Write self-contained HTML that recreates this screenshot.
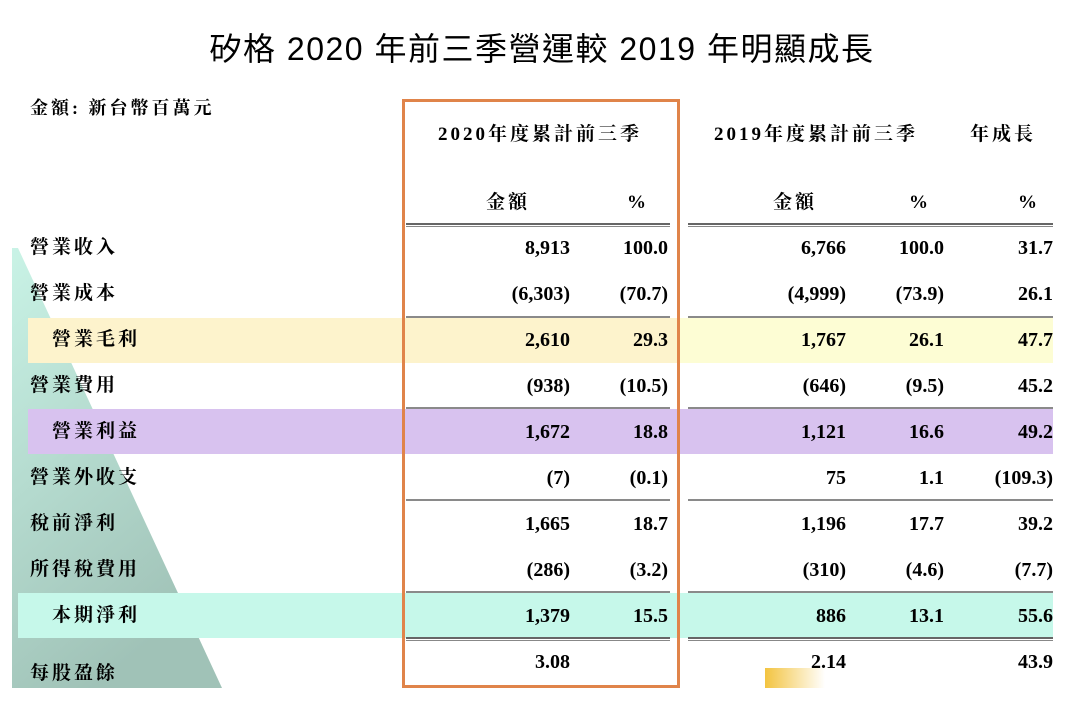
<!DOCTYPE html>
<html><head><meta charset="utf-8"><style>
body{margin:0;width:1084px;height:710px;background:#fff;position:relative;overflow:hidden;font-family:"Liberation Serif","Noto Serif CJK SC",serif;}
.a{position:absolute;white-space:nowrap;}
.t{font-family:"Liberation Sans","Noto Sans CJK TC",sans-serif;font-size:32px;letter-spacing:1.5px;left:0;width:1084px;text-align:center;top:24px;}
.l{font-size:19px;font-weight:bold;left:30px;line-height:24px;letter-spacing:3px;}
.n{font-size:20px;font-weight:bold;line-height:24px;text-align:right;width:140px;}
.h{font-size:19px;font-weight:bold;line-height:24px;letter-spacing:3px;}
.ln{position:absolute;height:2px;background:#8a8a8a;}
.dl{position:absolute;height:4px;border-top:2px solid #666;border-bottom:1px solid #888;box-sizing:border-box;}
</style></head><body>
<svg class="a" style="left:0;top:0" width="1084" height="710">
<defs><linearGradient id="g" x1="0" y1="0" x2="0.4" y2="1"><stop offset="0" stop-color="#c9f3e6"/><stop offset="1" stop-color="#a0c2b7"/></linearGradient>
<linearGradient id="y" x1="0" x2="1"><stop offset="0" stop-color="#f3c440"/><stop offset="1" stop-color="#fff"/></linearGradient></defs>
<polygon points="18,248 222,688 12,688 12,248" fill="url(#g)"/>
<rect x="28" y="318" width="1025" height="45" fill="#fdf3cc"/>
<rect x="680" y="318" width="373" height="45" fill="#fdfdd4"/>
<rect x="28" y="409" width="1025" height="45" fill="#d8c2ef"/>
<rect x="18" y="593" width="1035" height="45" fill="#c6f8ea"/>
<rect x="765" y="668" width="60" height="20" fill="url(#y)"/>
</svg>
<div class="ln" style="left:406px;width:264px;top:316px"></div><div class="ln" style="left:688px;width:365px;top:316px"></div>
<div class="ln" style="left:406px;width:264px;top:407px"></div><div class="ln" style="left:688px;width:365px;top:407px"></div>
<div class="ln" style="left:406px;width:264px;top:499px"></div><div class="ln" style="left:688px;width:365px;top:499px"></div>
<div class="ln" style="left:406px;width:264px;top:591px"></div><div class="ln" style="left:688px;width:365px;top:591px"></div>
<div class="dl" style="left:406px;width:264px;top:223px"></div><div class="dl" style="left:688px;width:365px;top:223px"></div>
<div class="dl" style="left:406px;width:264px;top:637px"></div><div class="dl" style="left:688px;width:365px;top:637px"></div>
<div class="a" style="left:402px;top:99px;width:278px;height:589px;border:3px solid #e0844a;box-sizing:border-box"></div>
<div class="a t">矽格 2020 年前三季營運較 2019 年明顯成長</div>
<div class="a h" style="left:30px;top:96px;font-size:18px">金額: 新台幣百萬元</div>
<div class="a h" style="left:438px;top:123px">2020年度累計前三季</div>
<div class="a h" style="left:714px;top:123px">2019年度累計前三季</div>
<div class="a h" style="left:970px;top:123px">年成長</div>
<div class="a h" style="left:486px;top:191px">金額</div><div class="a h" style="left:627px;top:191px">%</div>
<div class="a h" style="left:773px;top:191px">金額</div><div class="a h" style="left:909px;top:191px">%</div><div class="a h" style="left:1018px;top:191px">%</div>
<div class="a l" style="top:236px">營業收入</div>
<div class="a l" style="top:282px">營業成本</div>
<div class="a l" style="top:328px;left:52px">營業毛利</div>
<div class="a l" style="top:374px">營業費用</div>
<div class="a l" style="top:420px;left:52px">營業利益</div>
<div class="a l" style="top:466px">營業外收支</div>
<div class="a l" style="top:512px">稅前淨利</div>
<div class="a l" style="top:558px">所得稅費用</div>
<div class="a l" style="top:604px;left:52px">本期淨利</div>
<div class="a l" style="top:662px">每股盈餘</div>
<div id="rows"></div>
<script>
var d=[["8,913","100.0","6,766","100.0","31.7"],["(6,303)","(70.7)","(4,999)","(73.9)","26.1"],["2,610","29.3","1,767","26.1","47.7"],["(938)","(10.5)","(646)","(9.5)","45.2"],["1,672","18.8","1,121","16.6","49.2"],["(7)","(0.1)","75","1.1","(109.3)"],["1,665","18.7","1,196","17.7","39.2"],["(286)","(3.2)","(310)","(4.6)","(7.7)"],["1,379","15.5","886","13.1","55.6"],["3.08","","2.14","","43.9"]];
var r=[570,668,846,944,1053],h="";
d.forEach(function(row,i){row.forEach(function(v,j){h+='<div class="a n" style="left:'+(r[j]-140)+'px;top:'+(236+46*i)+'px">'+v+'</div>';});});
document.getElementById("rows").innerHTML=h;
</script>
</body></html>
